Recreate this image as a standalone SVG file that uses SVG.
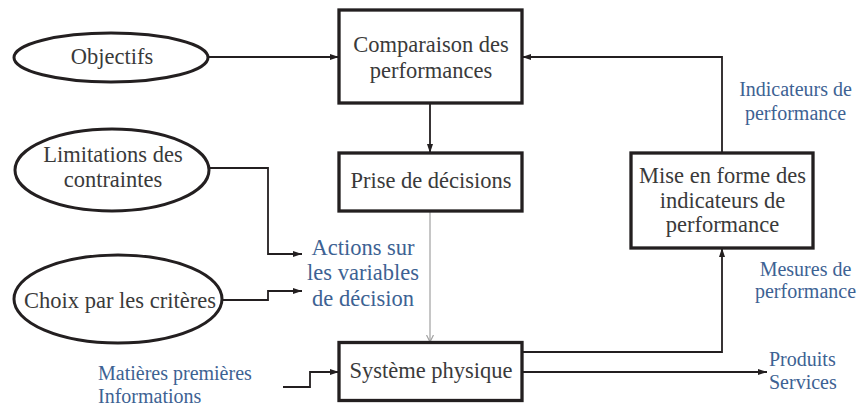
<svg xmlns="http://www.w3.org/2000/svg" width="857" height="407" viewBox="0 0 857 407">
<style>
.box{fill:#fff;stroke:#231f20;stroke-width:3.3}
.ell{fill:#fff;stroke:#231f20;stroke-width:3}
.t{font-family:"Liberation Serif","Times New Roman",serif;font-size:22.5px;fill:#3a3a3a;text-anchor:middle}
.b{font-family:"Liberation Serif","Times New Roman",serif;font-size:20px;fill:#3d6293}
.c{fill:none;stroke:#231f20;stroke-width:1.8}
.g{fill:none;stroke:#a0a0a0;stroke-width:1.2}
</style>
<defs>
<marker id="ah" markerUnits="userSpaceOnUse" markerWidth="10" markerHeight="6" refX="9" refY="3" orient="auto">
<path d="M0,0 L9,3 L0,6 z" fill="#231f20"/>
</marker>
<marker id="ag" markerUnits="userSpaceOnUse" markerWidth="10" markerHeight="8" refX="7" refY="4" orient="auto">
<path d="M0,0.5 L7,4 L0,7.5" fill="none" stroke="#a0a0a0" stroke-width="1.2"/>
</marker>
</defs>
<rect width="857" height="407" fill="#fff"/>
<g id="connectors">
<path class="c" d="M208,57 H339" marker-end="url(#ah)"/>
<path class="c" d="M722,153 V57 H522" marker-end="url(#ah)"/>
<path class="c" d="M430,103 V153" marker-end="url(#ah)"/>
<path class="g" d="M430,211 V342" marker-end="url(#ag)"/>
<path class="c" d="M209,168 H268 V254 H302" marker-end="url(#ah)"/>
<path class="c" d="M222,300 H268 V291 H302" marker-end="url(#ah)"/>
<path class="c" d="M283,387 H310 V372 H339" marker-end="url(#ah)"/>
<path class="c" d="M522,352 H722 V248" marker-end="url(#ah)"/>
<path class="c" d="M522,372 H767" marker-end="url(#ah)"/>
</g>
<g id="objectifs">
<ellipse class="ell" cx="111" cy="57.5" rx="97" ry="24.5"/>
<text class="t" x="112" y="64">Objectifs</text>
</g>
<g id="limitations">
<ellipse class="ell" cx="112" cy="170" rx="97" ry="41"/>
<text class="t" x="113" y="162">Limitations des</text>
<text class="t" x="113" y="187">contraintes</text>
</g>
<g id="choix">
<ellipse class="ell" cx="118" cy="299" rx="104" ry="44"/>
<text class="t" x="120" y="308">Choix par les critères</text>
</g>
<g id="comparaison">
<rect class="box" x="339" y="10" width="183" height="93"/>
<text class="t" x="431" y="52">Comparaison des</text>
<text class="t" x="431" y="78">performances</text>
</g>
<g id="prise">
<rect class="box" x="339" y="153" width="183" height="58"/>
<text class="t" x="431" y="188">Prise de décisions</text>
</g>
<g id="systeme">
<rect class="box" x="339" y="342.5" width="183" height="58"/>
<text class="t" x="431" y="378">Système physique</text>
</g>
<g id="mise">
<rect class="box" x="631" y="153" width="182" height="95"/>
<text class="t" x="722.5" y="183">Mise en forme des</text>
<text class="t" x="722.5" y="208">indicateurs de</text>
<text class="t" x="722.5" y="232">performance</text>
</g>
<g id="labels">
<text class="b" style="font-size:22.5px" text-anchor="middle" x="363" y="255">Actions sur</text>
<text class="b" style="font-size:22.5px" text-anchor="middle" x="363" y="280">les variables</text>
<text class="b" style="font-size:22.5px" text-anchor="middle" x="363" y="306">de décision</text>
<text class="b" text-anchor="middle" x="795.5" y="96">Indicateurs de</text>
<text class="b" text-anchor="middle" x="795.5" y="120">performance</text>
<text class="b" text-anchor="middle" x="805.5" y="276">Mesures de</text>
<text class="b" text-anchor="middle" x="805.5" y="298">performance</text>
<text class="b" x="98" y="380">Matières premières</text>
<text class="b" x="98" y="403">Informations</text>
<text class="b" x="769" y="366">Produits</text>
<text class="b" x="769" y="389">Services</text>
</g>
</svg>
